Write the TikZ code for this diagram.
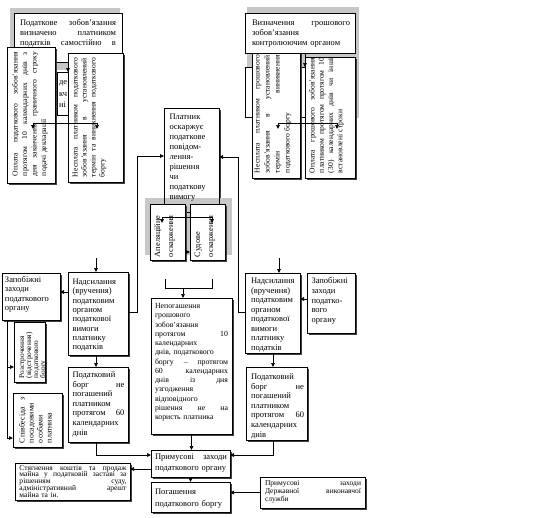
\documentclass[tikz,border=0pt]{standalone}
\usepackage{fontspec}
\setmainfont{Liberation Serif}
\usetikzlibrary{shadows,arrows.meta}
\newcommand\fsz[2]{\fontsize{#1}{#2}\selectfont}
\newcommand\J[1]{\leavevmode\hbox to \linewidth{#1}}
\newcommand\bx[6][box]{\node[#1, minimum width={#5-#3}, minimum height={#6-#4}] (#2) at ({(#3+#5)/2},{(#4+#6)/2}) {};}
\tikzset{
  plain/.style={draw, fill=white, line width=0.8pt, inner sep=0pt, outer sep=0pt},
  box/.style={plain, drop shadow={shadow xshift=1.8pt, shadow yshift=-1.8pt, fill=black!75, opacity=1}},
  shadebox/.style={fill=black!22, draw=none, inner sep=0pt, outer sep=0pt},
  tx/.style={inner sep=0pt, outer sep=0pt, anchor=base west, align=left, font={\fsz{8}{9.3}}},
  ln/.style={line width=0.7pt},
  arr/.style={line width=0.7pt, -{Triangle[length=4pt,width=3.6pt]}}
}
\begin{document}
\begin{tikzpicture}[x=1pt,y=-1pt]
\useasboundingbox (0,0) rectangle (545,517);
\fill[white] (0,0) rectangle (545,517);

% ---------- top left group ----------
\fill[black!22] (10,8) rectangle (120,70);
\bx[plain]{A}{14}{13}{122}{62}
\node[tx, font={\fsz{8.5}{10}}, text width=96pt] at (20,25.5) {\J{Податкове\hfill зобов’язання}\\ \J{визначено\hfill платником}\\ \J{податків\hfill самостійно\hfill в}\\ декларації};
\bx[plain]{K1}{57}{72}{120}{115}
\node[tx, font={\fsz{8.5}{11.5}}, text width=40pt] at (59,84.5) {де\\ кч\\ ні};
\bx{B1}{7}{47}{55}{183}
\node[tx, rotate=90, font={\fsz{7.6}{9.5}}, text width=124pt] at (17.5,176) {\J{Оплата\hfill податкового\hfill зобов’язання}\\ \J{протягом\hfill 10\hfill календарних\hfill днів\hfill з}\\ \J{дня\hfill закінчення\hfill граничного\hfill строку}\\ подачі декларації};
\bx{B2}{68}{53}{123}{182}
\node[tx, rotate=90, font={\fsz{7.6}{9}}, text width=119pt] at (77.5,177) {\J{Несплата\hfill платником\hfill податкового}\\ \J{зобов’язання\hfill в\hfill установлений}\\ \J{термін\hfill та\hfill виникнення\hfill податкового}\\ боргу};
\draw[arr] ([xshift=54pt]A.south west) -- ([xshift=54pt]A.south west |- K1.north);
\coordinate (bl) at (33,123);
\coordinate (br) at (97,123);
\draw[ln] (bl) -- (br);
\draw[arr] (bl) -- ++(0,6);
\draw[arr] (br) -- ++(0,6);

% ---------- top right group ----------
\fill[black!22] (247,7) rectangle (359,118);
\bx[plain]{K2}{245}{67}{355}{117}
\bx{C1}{252}{50}{300}{178}
\node[tx, rotate=90, font={\fsz{7.6}{10}}, text width=118pt] at (259.5,173) {\J{Несплата\hfill платником\hfill грошового}\\ \J{зобов’язання\hfill в\hfill установлений}\\ \J{термін\hfill виникнення}\\ податкового боргу};
\bx{C2}{305}{57}{355}{178}
\node[tx, rotate=90, font={\fsz{7.6}{9.3}}, text width=115pt] at (314.5,173) {\J{Оплата\hfill грошового\hfill зобов’язання}\\ \J{платником\hfill протягом\hfill протягом\hfill 10}\\ \J{(30)\hfill календарних\hfill днів\hfill чи\hfill інші}\\ встановлені строки};
\bx[plain]{R0}{245}{13}{355}{53}
\node[tx, font={\fsz{8.5}{10}}, text width=98pt] at (252,25.5) {\J{Визначення\hfill грошового}\\ зобов’язання\\ контролюючим органом};
\draw[arr] ([xshift=60pt]R0.south west) -- ([xshift=60pt]R0.south west |- K2.north);
\coordinate (cl) at (278,123);
\coordinate (cr) at (337,123);
\draw[ln] (cl) -- (cr);
\draw[arr] (cl) -- ++(0,6);
\draw[arr] (cr) -- ++(0,6);

% ---------- appeal ----------
\bx{D}{164}{108}{219}{212}
\node[shadebox, minimum width=87, minimum height=57] (EG) at (188.5,226.5) {};
\draw[line width=0.8pt] (D.north west) rectangle (D.south east);
\node[tx, font={\fsz{8.5}{10}}, text width=47pt] at (169.5,119.5) {Платник\\ оскаржує\\ податкове\\ повідом-\\ лення-\\ рішення\\ чи\\ податкову\\ вимогу};
\bx{E1}{150}{204}{185}{260}
\node[tx, rotate=90, font={\fsz{8.3}{13}}, text width=50pt] at (160,257) {Апеляційне\\ оскарження};
\bx{E2}{190}{204}{225}{260}
\node[tx, rotate=90, font={\fsz{8.3}{13}}, text width=50pt] at (200,257) {Судове\\ оскарження};
\coordinate (dl) at (162,217);
\coordinate (dr) at (212,217);
\draw[ln] (dl) -- (dr);
\draw[arr] (dl) -- ++(0,6);
\draw[arr] (dr) -- ++(0,6);
\draw[arr] ([yshift=8pt]E1.south east) -- ([yshift=8pt]E1.south east -| E2.west);

% ---------- left column ----------
\bx{Z1}{2}{273}{60}{320}
\node[tx, font={\fsz{8.5}{9.3}}, text width=54pt] at (5,282.5) {Запобіжні\\ заходи\\ податкового\\ органу};
\bx{N1}{68}{272}{128}{355}
\node[tx, font={\fsz{8.5}{9.3}}, text width=54pt] at (72.5,284.5) {Надсилання\\ (вручення)\\ податковим\\ органом\\ податкової\\ вимоги\\ платнику\\ податків};
\bx{R}{14}{322}{45}{382}
\node[tx, rotate=90, font={\fsz{7.3}{7}}, text width=53pt] at (24,378) {Розстрочення\\ (відстрочення)\\ податкового\\ боргу};
\bx{S}{13}{393}{62}{447}
\node[tx, rotate=90, font={\fsz{7.8}{9}}, text width=46pt] at (24.5,443) {\J{Співбесіда\hfill з}\\ посадовими\\ особами\\ платника};
\bx{P1}{68}{367}{128}{442}
\node[tx, font={\fsz{8.5}{9.6}}, text width=52pt] at (72.5,377.5) {Податковий\\ \J{борг\hfill не}\\ погашений\\ платником\\ \J{протягом\hfill 60}\\ календарних\\ днів};

% ---------- right column ----------
\bx{N2}{245}{273}{300}{353}
\node[tx, font={\fsz{8.5}{9.5}}, text width=52pt] at (251,283.5) {Надсилання\\ (вручення)\\ податковим\\ органом\\ податкової\\ вимоги\\ платнику\\ податків};
\bx{Z2}{307}{273}{355}{333}
\node[tx, font={\fsz{8.5}{9.8}}, text width=42pt] at (311.5,283.5) {Запобіжні\\ заходи\\ податко-\\ вого\\ органу};
\bx{P2}{246}{367}{307}{440}
\node[tx, font={\fsz{8.5}{9.6}}, text width=53pt] at (251,379.5) {Податковий\\ \J{борг\hfill не}\\ погашений\\ платником\\ \J{протягом\hfill 60}\\ календарних\\ днів};

% ---------- centre ----------
\bx{F}{151}{298}{232}{434}
\node[tx, font={\fsz{7.8}{9.25}}, text width=73pt] at (155,308.5) {Непогашення\\ грошового\\ зобов’язання\\ \J{протягом\hfill 10}\\ календарних\\ днів, податкового\\ \J{боргу\hfill –\hfill протягом}\\ \J{60\hfill календарних}\\ \J{днів\hfill із\hfill дня}\\ узгодження\\ відповідного\\ \J{рішення\hfill не\hfill на}\\ користь платника};
\bx{G}{151}{450}{230}{477}
\node[tx, font={\fsz{8.5}{10.5}}, text width=72pt] at (155,459.5) {\J{Примусові\hfill заходи}\\ податкового органу};
\bx{H}{15}{463}{130}{500}
\node[tx, font={\fsz{7.5}{6.8}}, text width=107pt] at (19.5,470) {\J{Стягнення\hfill коштів\hfill та\hfill продаж}\\ \J{майна\hfill у\hfill податковій\hfill заставі\hfill за}\\ \J{рішенням\hfill суду,}\\ \J{адміністративний\hfill арешт}\\ майна та ін.};
\bx{I}{151}{482}{230}{512}
\node[tx, font={\fsz{8.5}{12}}, text width=72pt] at (155,494) {Погашення\\ податкового боргу};
\bx{J}{260}{477}{365}{508}
\node[tx, font={\fsz{7.5}{8}}, text width=96pt] at (265,485.5) {\J{Примусові\hfill заходи}\\ \J{Державної\hfill виконавчої}\\ служби};

% ---------- connectors ----------
\coordinate (n1in) at (96,258);
\draw[arr] (n1in) -- (n1in |- N1.north);
\coordinate (n2in) at (279,258);
\draw[arr] (n2in) -- (n2in |- N2.north);
\coordinate (n2d) at ([xshift=-6pt]n2in |- N2.south);
\draw[arr] ([yshift=-20pt]N1.north west) -- ([yshift=-20pt]N1.north west -| Z1.east);
\draw[arr] ([yshift=-26pt]Z2.north west) -- ([yshift=-26pt]Z2.north west -| N2.east);
\draw[arr] ([yshift=-40pt]N1.north east) -- ++(9,0) |- ([yshift=-48pt]D.north west);
\draw[arr] ([yshift=-39pt]N2.north west) -- ++(-7,0) |- ([yshift=-49pt]D.north east);
\coordinate (zv) at ([xshift=5pt]Z1.south west);
\draw[arr] (zv) |- ([yshift=15pt]R.south west);
\draw[arr] (zv) |- ([yshift=9pt]S.south west);
\draw[arr] (N1.south -| n1in) -- (n1in |- P1.north);
\draw[arr] (n2d) -- (n2d |- P2.north);
\coordinate (m1) at (165,279);
\coordinate (m2) at (212,279);
\coordinate (mm) at (183,288);
\draw[ln] (m1) -- (m1 |- mm) -- (m2 |- mm) -- (m2);
\draw[arr] (mm) -- (mm |- F.north);
\draw[arr] (n1in |- P1.south) |- ([yshift=-5pt]G.north west);
\draw[arr] (n2d |- P2.south) |- ([yshift=-5pt]G.north east);
\draw[arr] (F.south) -- (F.south |- G.north);
\draw[arr] ([yshift=-19pt]G.north west) -- ([yshift=-19pt]G.north west -| H.east);
\draw[arr] (G.south) -- (G.south |- I.north);
\draw[arr] (J.west) -- (J.west -| I.east);
\end{tikzpicture}
\end{document}
